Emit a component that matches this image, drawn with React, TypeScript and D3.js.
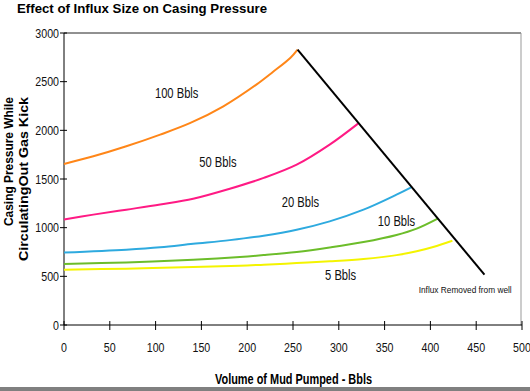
import React from "react";
import * as d3 from "d3";

const seriesNames = ["100 Bbls", "50 Bbls", "20 Bbls", "10 Bbls", "5 Bbls"];
const seriesColors = ["#ff8618", "#ff1a84", "#2eaadf", "#6cbd2a", "#f4f400"];

const vol100 = [0, 32, 68, 105, 138, 174, 210, 228, 247, 255];
const psi100 = [1655, 1733, 1836, 1956, 2076, 2247, 2470, 2600, 2744, 2830];
const vol50 = [0, 32, 68, 105, 141, 181, 218, 254, 290, 321];
const psi50 = [1085, 1134, 1185, 1238, 1297, 1400, 1511, 1647, 1853, 2069];
const vol20 = [0, 68, 105, 141, 181, 218, 254, 290, 327, 363, 379];
const psi20 = [745, 774, 798, 834, 872, 918, 979, 1065, 1185, 1339, 1414];
const vol10 = [0, 68, 141, 192, 218, 254, 290, 327, 363, 385, 408];
const psi10 = [627, 643, 671, 699, 718, 750, 796, 852, 925, 990, 1093];
const vol5 = [0, 68, 141, 192, 218, 254, 290, 327, 363, 385, 403, 424];
const psi5 = [568, 579, 596, 609, 620, 636, 654, 678, 718, 758, 802, 866];

// line joining the end of each curve
const removedVol = [255, 459];
const removedPsi = [2830, 517];

const xTicks = [0, 50, 100, 150, 200, 250, 300, 350, 400, 450, 500];
const yTicks = [0, 500, 1000, 1500, 2000, 2500, 3000];

const font = "'Liberation Sans', Arial, sans-serif";

// condensed text (no narrow font installed, so squeeze horizontally)
const NText = ({ x, y, anchor = "start", size = 13, bold = false, sx = 0.82, dy = "0", children }: any) => (
  <text
    transform={`translate(${x},${y}) scale(${sx},1)`}
    dy={dy}
    textAnchor={anchor}
    fontFamily={font}
    fontSize={size}
    fontWeight={bold ? "bold" : "normal"}
    fill="#111"
  >
    {children}
  </text>
);

const App = () => {
  const width = 530, height = 391;
  const x = d3.scaleLinear().domain([0, 500]).range([64, 522]);
  const y = d3.scaleLinear().domain([0, 3000]).range([325, 33]);

  const vols = [vol100, vol50, vol20, vol10, vol5];
  const psis = [psi100, psi50, psi20, psi10, psi5];
  const series = seriesNames.map((name, i) => ({
    name,
    color: seriesColors[i],
    points: vols[i].map((v, j) => [v, psis[i][j]] as [number, number]),
  }));

  const line = d3
    .line<[number, number]>()
    .x((d) => x(d[0]))
    .y((d) => y(d[1]))
    .curve(d3.curveCatmullRom.alpha(0.5));

  const removed = removedVol.map((v, j) => [v, removedPsi[j]] as [number, number]);

  // label anchors in data units
  const labelAt = [
    [123, 2336],
    [168, 1620],
    [258, 1213],
    [363, 1013],
    [302, 466],
  ];

  return (
    <svg
      width={width}
      height={height}
      style={{ position: "absolute", left: 0, top: 0, background: "#fff" }}
    >
      <text x={17} y={13} fontFamily={font} fontWeight="bold" fontSize={13} textLength={250} lengthAdjust="spacingAndGlyphs">
        Effect of Influx Size on Casing Pressure
      </text>

      {/* frame */}
      <line x1={64} x2={521} y1={y(3000)} y2={y(3000)} stroke="#222" strokeWidth={1} />
      <line x1={521} x2={521} y1={y(3000)} y2={y(0)} stroke="#999" strokeWidth={1} />
      <line x1={64} x2={64} y1={y(3000)} y2={y(0)} stroke="#000" strokeWidth={1} />
      <line x1={64} x2={522} y1={y(0)} y2={y(0)} stroke="#000" strokeWidth={1} />

      {yTicks.map((t) => (
        <g key={"y" + t}>
          <line x1={60} x2={67} y1={y(t)} y2={y(t)} stroke="#000" />
          <NText x={59} y={y(t)} dy="0.36em" anchor="end">
            {t}
          </NText>
        </g>
      ))}
      {xTicks.map((t) => (
        <g key={"x" + t}>
          <line x1={x(t)} x2={x(t)} y1={321} y2={330} stroke="#000" />
          <NText x={x(t)} y={352} anchor="middle">
            {t}
          </NText>
        </g>
      ))}

      {series.map((s) => (
        <path key={s.name} d={line(s.points) || ""} fill="none" stroke={s.color} strokeWidth={2} />
      ))}
      <path d={line(removed) || ""} fill="none" stroke="#000" strokeWidth={2} />

      {series.map((s, i) => (
        <NText key={"l" + s.name} x={x(labelAt[i][0])} y={y(labelAt[i][1])} anchor="middle" size={14} sx={0.8}>
          {s.name}
        </NText>
      ))}
      <text x={x(438)} y={y(333)} textAnchor="middle" fontFamily={font} fontSize={9} fill="#111" textLength={93} lengthAdjust="spacingAndGlyphs">
        Influx Removed from well
      </text>

      <text transform="translate(13,97) rotate(-90)" textAnchor="end" fontFamily={font} fontWeight="bold" fontSize={13} textLength={129} lengthAdjust="spacingAndGlyphs">
        Casing Pressure While
      </text>
      <text transform="translate(28,97) rotate(-90)" textAnchor="end" fontFamily={font} fontWeight="bold" fontSize={13} textLength={164} lengthAdjust="spacingAndGlyphs">
        CirculatingOut Gas Kick
      </text>

      <text x={293.5} y={384} textAnchor="middle" fontFamily={font} fontWeight="bold" fontSize={14} textLength={157} lengthAdjust="spacingAndGlyphs">
        Volume of Mud Pumped - Bbls
      </text>

      <rect x={0} y={387} width={width} height={4} fill="#808080" />
    </svg>
  );
};

export default App;
